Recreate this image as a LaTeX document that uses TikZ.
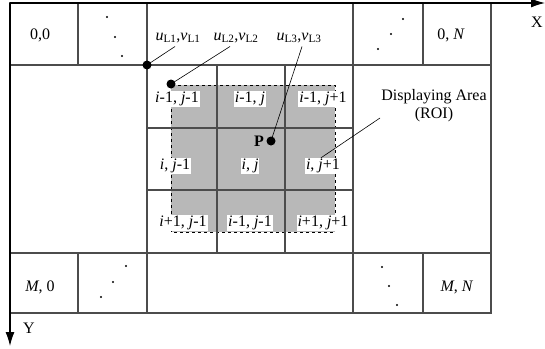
\documentclass[tikz,border=0pt]{standalone}
\usepackage{fontspec}
\setmainfont{Liberation Serif}
\usetikzlibrary{arrows.meta}

\tikzset{
  gridline/.style={draw=black!70, line width=1.3pt},
  cellnum/.style={fill=white, inner sep=1pt},
  leader/.style={draw=black, line width=0.6pt},
  spot/.style={circle, fill=black, inner sep=0pt, minimum size=9pt},
  axis/.style={line width=1.1pt, -{Latex[length=14pt,width=9pt]}},
}

\begin{document}
\begin{tikzpicture}[x=1pt, y=-1pt, font=\fontsize{16}{18}\selectfont]
    \useasboundingbox (0,0) rectangle (545,348);

    % Zone affichee (ROI)
    \fill[black!28] (171,85) rectangle (335,232);
    \draw[dashed, line width=0.8pt] (171,85) rectangle (335,232);

    % Cadre et lignes de la grille
    \draw[gridline] (10,3) rectangle (491,313);
    \draw[gridline] (10,65) -- (491,65);
    \draw[gridline] (10,253) -- (491,253);
    \foreach \xc in {147,353} {
        \draw[gridline] (\xc,3) -- (\xc,313);
    }
    \foreach \xc in {78,423} {
        \draw[gridline] (\xc,3) -- (\xc,65);
        \draw[gridline] (\xc,253) -- (\xc,313);
    }
    \foreach \xc in {217,285} {
        \draw[gridline] (\xc,65) -- (\xc,253);
    }
    \foreach \yc in {128,190} {
        \draw[gridline] (147,\yc) -- (353,\yc);
    }

    % Axes
    \coordinate (origin) at (10,3);
    \coordinate (xend) at (545,3);
    \coordinate (yend) at (10,346);
    \draw[axis] (origin) -- (xend);
    \draw[axis] (origin) -- (yend);
    \node (xlab) at (537,22) {X};
    \node (ylab) at (29,328) {Y};

    % Coins
    \node (c00) at (40,35) {0,0};
    \node (c0N) at (451,35) {0, \textit{N}};
    \node (cM0) at (40,287) {\textit{M}, 0};
    \node (cMN) at (457,287) {\textit{M}, \textit{N}};

    % Points de suspension
    \foreach \pt in {(107,17),(115,37),(122,56),(403,19),(391,34),(378,49),
                     (126,266),(113,282),(101,297),(382,267),(389,286),(397,305)} {
        \fill \pt circle (1.2pt);
    }

    % Cellules voisines
    \node[cellnum] (n11) at (177,99) {\textit{i}-1, \textit{j}-1};
    \node[cellnum] (n12) at (250,99) {\textit{i}-1, \textit{j}};
    \node[cellnum] (n13) at (323,99) {\textit{i}-1, \textit{j}+1};
    \node[cellnum] (n21) at (175,166) {\textit{i}, \textit{j}-1};
    \node[cellnum] (n22) at (250,166) {\textit{i}, \textit{j}};
    \node[cellnum] (n23) at (323,166) {\textit{i}, \textit{j}+1};
    \node[cellnum] (n31) at (183,223) {\textit{i}+1, \textit{j}-1};
    \node[cellnum] (n32) at (250,223) {\textit{i}-1, \textit{j}-1};
    \node[cellnum] (n33) at (323,223) {\textit{i}+1, \textit{j}+1};

    % Points L1, L2, L3 et P
    \node[spot] (pL1) at (147,65) {};
    \node[spot] (pL2) at (171,84) {};
    \node[spot] (pP) at (271,141) {};
    \node[font=\fontsize{16}{18}\selectfont\bfseries] (plab) at (259,141) {P};

    \node (uL1) at (178,38) {\textit{u}\textsubscript{L1},\textit{v}\textsubscript{L1}};
    \node (uL2) at (236,38) {\textit{u}\textsubscript{L2},\textit{v}\textsubscript{L2}};
    \node (uL3) at (299,38) {\textit{u}\textsubscript{L3},\textit{v}\textsubscript{L3}};
    \draw[leader] (pL1.center) -- ([xshift=-3pt]uL1.south);
    \draw[leader] (pL2.center) -- ([xshift=-6pt]uL2.south);
    \draw[leader] (pP.center) -- ([xshift=3pt]uL3.south);

    % Etiquette de la zone
    \node[align=center] (roi) at (434,106) {Displaying Area\\(ROI)};
    \coordinate (roitip) at (380,118);
    \draw[leader] (roitip) -- ([xshift=-2pt]n23.north);
\end{tikzpicture}
\end{document}
